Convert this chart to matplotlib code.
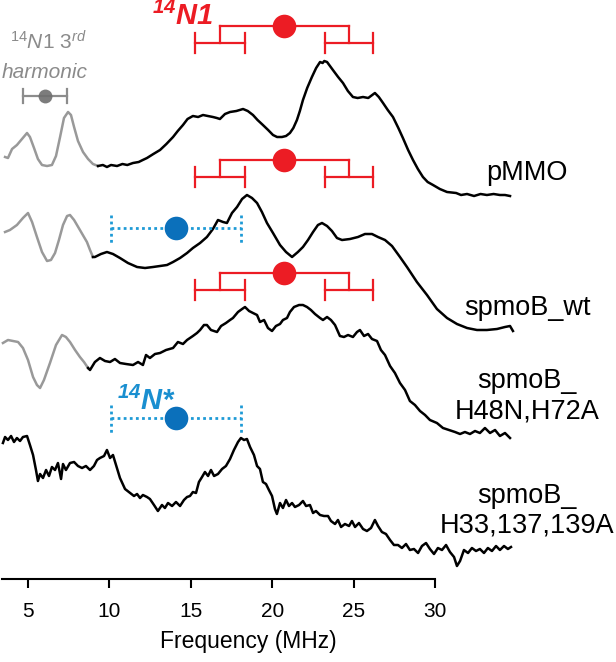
import numpy as np
import matplotlib
matplotlib.use("Agg")
import matplotlib.pyplot as plt

plt.rcParams['font.family'] = ['Liberation Sans', 'DejaVu Sans']
plt.rcParams['mathtext.fontset'] = 'custom'
plt.rcParams['mathtext.rm'] = 'Liberation Sans'
plt.rcParams['mathtext.it'] = 'Liberation Sans:italic'
plt.rcParams['mathtext.bf'] = 'Liberation Sans:italic:bold'

# ENDOR spectra, frequency (MHz) and intensity above each trace's own baseline (a.u.)
freq_pmmo = [3.59, 3.77, 4.02, 4.32, 4.63, 4.94, 5.12, 5.37, 5.61, 5.86, 6.17, 6.47, 6.72, 6.97,
             7.21, 7.46, 7.64, 7.83, 8.07, 8.38, 8.69, 8.99, 9.30,
             9.60, 9.85, 10.10, 10.47, 10.80, 11.10, 11.45, 11.80, 12.05, 12.31, 12.70, 13.11,
             13.50, 13.91, 14.20, 14.52, 14.80, 15.13, 15.45, 15.75, 16.05, 16.36, 16.60, 16.79,
             17.10, 17.41, 17.80, 18.21, 18.50, 18.82, 19.10, 19.43, 19.75, 20.05, 20.30, 20.60,
             20.85, 21.09, 21.30, 21.52, 21.70, 21.89, 22.15, 22.44, 22.70, 22.94, 23.10, 23.20,
             23.37, 23.55, 23.73, 24.05, 24.35, 24.65, 24.96, 25.25, 25.58, 25.90, 26.31, 26.55,
             26.81, 27.10, 27.42, 27.75, 28.03, 28.35, 28.65, 28.95, 29.26, 29.55, 29.88, 30.30,
             30.74, 31.30, 31.60, 31.97, 32.40, 32.80, 33.19, 33.60, 33.99, 34.30, 34.61]
int_pmmo = [39, 38, 47, 51, 57, 63, 59, 48, 37, 31, 30, 31, 40, 59,
            78, 84, 81, 69, 55, 44, 37, 32, 30,
            31, 29, 31, 30, 32, 31, 33, 34, 36, 38, 42, 46,
            52, 59, 65, 71, 77, 80, 79, 81, 80, 79, 78, 77,
            82, 84, 85, 87, 85, 81, 76, 71, 66, 61, 59, 59,
            60, 63, 68, 76, 85, 96, 108, 119, 128, 134, 133, 135,
            134, 130, 126, 119, 113, 105, 99, 98, 99, 98, 103, 99,
            93, 86, 79, 68, 58, 46, 36, 27, 19, 14, 11, 7,
            4, 3, 1, 2, 0, 2, 1, 2, 1, 1, 0]

freq_wt = [3.59, 3.89, 4.32, 4.69, 5.00, 5.25, 5.55, 5.86, 6.17, 6.41, 6.66, 6.90, 7.15, 7.40,
           7.58, 7.83, 8.19, 8.44, 8.62, 8.81, 8.99,
           9.11, 9.48, 9.85, 10.22, 10.65, 11.14, 11.70, 12.19, 12.68, 13.11, 13.54, 13.91,
           14.34, 14.77, 15.13, 15.57, 15.99, 16.36, 16.67, 16.98, 17.22, 17.53, 17.84, 18.15,
           18.45, 18.76, 19.07, 19.37, 19.68, 20.05, 20.48, 20.85, 21.22, 21.58, 21.89, 22.20,
           22.51, 22.81, 23.06, 23.37, 23.67, 23.98, 24.29, 24.78, 25.27, 25.70, 26.13, 26.50,
           26.93, 27.36, 27.85, 28.28, 28.89, 29.51, 30.12, 30.74, 31.35, 31.97, 32.58, 33.19,
           33.81, 34.30, 34.61, 34.79]
int_wt = [98, 100, 105, 112, 117, 108, 93, 78, 69, 70, 77, 90, 105, 114,
          115, 110, 100, 93, 88, 80, 73,
          73, 76, 78, 76, 72, 67, 63, 62, 63, 64, 65, 68,
          72, 77, 82, 87, 93, 101, 110, 108, 107, 117, 123, 131,
          135, 132, 127, 118, 107, 97, 85, 78, 73, 78, 83, 90,
          98, 105, 107, 104, 99, 92, 90, 91, 93, 96, 96, 93,
          90, 84, 73, 63, 48, 35, 21, 12, 6, 2, 0, 0,
          1, 3, 4, -1]

freq_h48 = [3.46, 3.77, 4.08, 4.39, 4.69, 5.00, 5.31, 5.55, 5.74, 5.98, 6.35, 6.72, 7.09, 7.33,
            7.58, 7.89, 8.19, 8.44, 8.69,
            8.81, 9.11, 9.42, 9.73, 10.04, 10.34, 10.65, 11.02, 11.45, 11.76, 12.06, 12.25,
            12.49, 12.80, 13.11, 13.48, 13.91, 14.21, 14.52, 14.77, 15.13, 15.38, 15.57, 15.81,
            15.99, 16.24, 16.61, 16.86, 17.16, 17.41, 17.59, 17.90, 18.15, 18.33, 18.58, 18.82,
            19.07, 19.25, 19.50, 19.74, 19.99, 20.23, 20.48, 20.66, 20.91, 21.09, 21.34, 21.65,
            21.89, 22.14, 22.38, 22.63, 22.94, 23.12, 23.37, 23.61, 23.86, 24.16, 24.41, 24.66,
            24.96, 25.21, 25.39, 25.64, 25.89, 26.13, 26.44, 26.68, 26.93, 27.24, 27.54, 27.85,
            28.16, 28.46, 28.77, 29.08, 29.39, 29.69, 30.12, 30.49, 30.86, 31.23, 31.54, 31.84,
            32.15, 32.46, 32.76, 33.07, 33.38, 33.69, 33.99, 34.30, 34.61]
int_h48 = [93, 96, 95, 94, 88, 76, 59, 51, 48, 56, 73, 91, 101, 99,
           94, 86, 79, 74, 68,
           66, 74, 78, 75, 74, 77, 73, 72, 71, 74, 71, 81,
           78, 82, 83, 86, 88, 94, 92, 96, 100, 103, 106, 111,
           111, 106, 104, 110, 113, 116, 118, 124, 127, 129, 125, 123,
           121, 114, 116, 108, 105, 110, 112, 116, 118, 124, 129, 131,
           131, 129, 126, 122, 118, 116, 119, 116, 111, 100, 99, 101,
           99, 104, 106, 100, 102, 97, 95, 86, 81, 70, 63, 53,
           46, 35, 31, 25, 21, 16, 13, 8, 6, 4, 2, 4,
           2, 5, 3, 8, 3, 6, 0, 3, -2]

freq_h33 = [3.46, 3.59, 3.77, 3.96, 4.14, 4.32, 4.51, 4.69, 4.94, 5.12, 5.31, 5.49, 5.61, 5.74,
            5.92, 6.11, 6.29, 6.47, 6.66, 6.84, 7.03, 7.15, 7.33, 7.58, 7.83, 8.07, 8.32, 8.56,
            8.81, 9.05, 9.24, 9.42, 9.67, 9.85, 10.04, 10.22, 10.41, 10.65, 10.96, 11.27, 11.51,
            11.70, 11.88, 12.06, 12.31, 12.49, 12.74, 12.98, 13.23, 13.41, 13.60, 13.85, 14.09,
            14.34, 14.58, 14.77, 14.95, 15.13, 15.32, 15.50, 15.69, 15.87, 16.06, 16.24, 16.43,
            16.67, 16.92, 17.16, 17.41, 17.65, 17.90, 18.08, 18.27, 18.45, 18.64, 18.88, 19.07,
            19.25, 19.43, 19.62, 19.80, 19.99, 20.17, 20.29, 20.48, 20.66, 20.85, 21.03, 21.22,
            21.40, 21.65, 21.89, 22.08, 22.32, 22.51, 22.69, 22.94, 23.18, 23.43, 23.61, 23.86,
            24.04, 24.23, 24.47, 24.72, 24.90, 25.09, 25.33, 25.58, 25.82, 26.07, 26.31, 26.50,
            26.74, 26.99, 27.24, 27.48, 27.73, 27.97, 28.22, 28.46, 28.71, 28.96, 29.20, 29.45,
            29.69, 29.94, 30.18, 30.43, 30.68, 30.92, 31.17, 31.35, 31.54, 31.78, 32.03, 32.27,
            32.52, 32.76, 33.01, 33.25, 33.50, 33.75, 33.99, 34.24, 34.48, 34.67]
int_h33 = [108, 114, 111, 115, 109, 113, 110, 114, 115, 106, 96, 81, 70, 77,
           73, 81, 75, 84, 81, 88, 72, 87, 81, 88, 89, 85, 83, 85,
           81, 85, 91, 93, 95, 101, 93, 96, 86, 73, 62, 58, 55,
           57, 53, 56, 54, 52, 46, 40, 46, 43, 48, 45, 49,
           45, 51, 54, 55, 59, 58, 69, 74, 79, 75, 81, 75,
           77, 82, 85, 92, 101, 109, 113, 111, 112, 104, 96, 85,
           82, 69, 67, 61, 55, 42, 37, 48, 43, 51, 45, 48,
           44, 46, 50, 45, 46, 38, 40, 36, 35, 35, 30, 27,
           31, 24, 27, 25, 30, 24, 28, 22, 20, 23, 31, 25,
           19, 17, 11, 6, 6, 3, 7, 1, 2, -2, 5, 8,
           2, -3, 3, 1, 6, -1, -6, -15, -10, 1, -2, 3,
           0, 2, -2, 3, 0, 5, 1, 5, 2, 4]

names = ['pMMO', 'spmoB_wt', 'spmoB_\nH48N,H72A', 'spmoB_\nH33,137,139A']
offsets = [383, 249, 143, 28]
harmonic_end = [9.30, 8.99, 8.69, None]
label_y = [406, 271, 183, 68]

# 14N1 hyperfine/quadrupole stick diagram and 14N* ranges
n1_center = 20.72
n1_low = [15.26, 18.33]
n1_high = [23.24, 26.19]
n1_y = [553, 419, 306]
nstar_range = [10.10, 18.08]
nstar_center = 14.09
nstar_y = [351, 161]
harm_range = [4.69, 7.40]
harm_center = 6.04
harm_y = 483

red = '#ec1c24'
blue_line = '#1e9ad6'
blue_dot = '#0b70bb'
gray = '#999999'

fig = plt.figure(figsize=(6.16, 6.62), dpi=100)
ax = fig.add_axes([0, 83 / 662, 1, 579 / 662])
ax.set_xlim(3.28, 41.12)
ax.set_ylim(0, 579)

traces = [(freq_pmmo, int_pmmo), (freq_wt, int_wt), (freq_h48, int_h48), (freq_h33, int_h33)]
for (f, v), off, cut, name, ly in zip(traces, offsets, harmonic_end, names, label_y):
    f = np.array(f)
    y = np.array(v) + off
    if cut is not None:
        g = f <= cut
        ax.plot(f[g], y[g], color=gray, lw=1.8, solid_joinstyle='round')
        b = f >= cut
    else:
        b = np.ones(len(f), bool)
    ax.plot(f[b], y[b], color='black', lw=1.8, solid_joinstyle='round')
    ax.text(35.65, ly, name, ha='center', va='center', fontsize=19.5, linespacing=1.2)

lw_r = 1.6
for y in n1_y:
    lo_mid = sum(n1_low) / 2
    hi_mid = sum(n1_high) / 2
    ax.plot([lo_mid, hi_mid], [y, y], color=red, lw=lw_r)
    for pair, mid in ((n1_low, lo_mid), (n1_high, hi_mid)):
        ax.plot([mid, mid], [y, y - 17], color=red, lw=lw_r)
        ax.plot(pair, [y - 17, y - 17], color=red, lw=lw_r)
        for x in pair:
            ax.plot([x, x], [y - 7, y - 27], color=red, lw=lw_r)
    ax.plot(n1_center, y, 'o', color=red, ms=17, mec='none', zorder=5)

for y in nstar_y:
    ax.plot(nstar_range, [y, y], color=blue_line, lw=2, ls=(0, (1, 1.2)))
    for x in nstar_range:
        ax.plot([x, x], [y + 13, y - 15], color=blue_line, lw=2, ls=(0, (1, 1.2)))
    ax.plot(nstar_center, y, 'o', color=blue_dot, ms=17, mec='none', zorder=5)

ax.plot(harm_range, [harm_y, harm_y], color='#8c8c8c', lw=1.6)
for x in harm_range:
    ax.plot([x, x], [harm_y + 7, harm_y - 7], color='#8c8c8c', lw=1.6)
ax.plot(harm_center, harm_y, 'o', color='#6e6e6e', ms=10, mec='none', alpha=0.9, zorder=5)

ax.text(12.62, 554, r'$\mathbf{^{14}N1}$', color=red, fontsize=21, ha='left', va='baseline')
ax.text(10.47, 169, r'$\mathbf{^{14}N{*}}$', color='#1a8fd0', fontsize=21, ha='left', va='baseline')
ax.text(3.89, 529, r'$\mathit{^{14}N1\ 3^{rd}}$', color='#8a8a8a', fontsize=15, ha='left', va='baseline')
ax.text(3.40, 501, 'harmonic', color='#8a8a8a', fontsize=15, ha='left', va='baseline', style='italic')

for s in ['left', 'top', 'right']:
    ax.spines[s].set_visible(False)
ax.spines['bottom'].set_linewidth(1.5)
ax.spines['bottom'].set_bounds(3.4, 30)
ax.set_yticks([])
ax.set_xticks([5, 10, 15, 20, 25, 30])
ax.tick_params(axis='x', direction='out', length=6.5, width=1.5, labelsize=15, pad=10)
ax.set_xlabel('Frequency (MHz)', fontsize=16.5)
ax.xaxis.set_label_coords(0.4026, -0.088)

fig.savefig('out.png', dpi=100)
